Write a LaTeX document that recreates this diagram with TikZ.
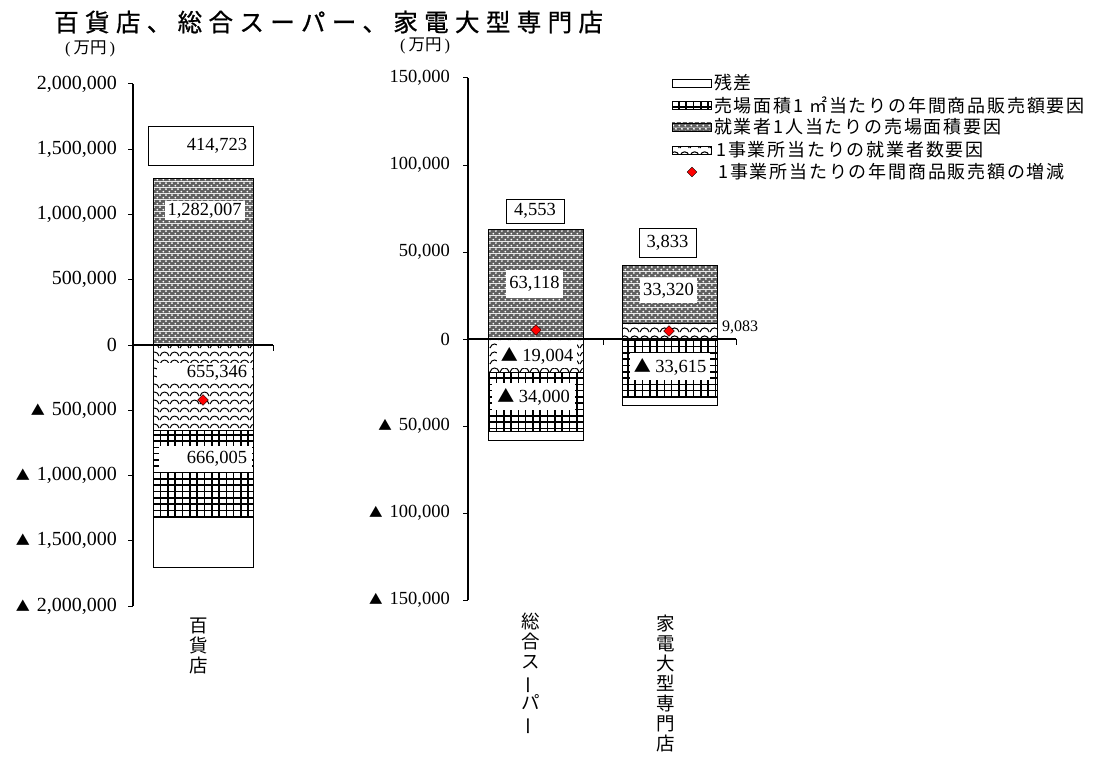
\documentclass[tikz,border=0pt]{standalone}
\usepackage{fontspec}
\usepackage{graphicx}
\setmainfont{Liberation Serif}
\newfontfamily\jp{Noto Sans CJK JP}
\usetikzlibrary{patterns,patterns.meta,shapes.geometric}

% fill of the floor-area-per-worker factor
\tikzdeclarepattern{
  name=dotmesh, type=colored,
  bounding box={(0pt,0pt) and (6pt,6pt)},
  tile size={(6pt,6pt)},
  code={\fill[black!62] (0pt,0pt) rectangle (6pt,6pt);
        \fill[white] (1.5pt,1.5pt) circle (1.15pt) (4.5pt,4.5pt) circle (1.15pt);}
}
% fill of the workers-per-establishment factor
\tikzdeclarepattern{
  name=scallop, type=uncolored,
  bounding box={(0pt,0pt) and (10pt,8pt)},
  tile size={(10pt,8pt)},
  code={\draw[line width=1.1pt] (0pt,1pt) .. controls (1.5pt,7pt) and (8.5pt,7pt) .. (10pt,1pt);}
}

% small triangle in front of negative numbers
\newcommand{\negtri}[1]{{\jp\fontsize{#1}{#1}\selectfont ▲}}

\begin{document}
\begin{tikzpicture}[x=1pt,y=-1pt,
  tick/.style={anchor=east,inner sep=0pt,font=\fontsize{20}{20}\selectfont},
  rtick/.style={anchor=east,inner sep=0pt,font=\fontsize{18.5}{19}\selectfont},
  vallab/.style={fill=white,inner xsep=3pt,inner ysep=1.5pt,font=\fontsize{18.5}{19}\selectfont},
  boxlab/.style={draw,fill=white,line width=0.9pt,font=\fontsize{18.5}{19}\selectfont},
  netpt/.style={diamond,draw,fill=red,inner sep=0pt,minimum size=11pt,line width=0.4pt},
  legtext/.style={anchor=west,inner sep=0pt,font=\jp\fontsize{18}{18}\selectfont\addfontfeature{LetterSpace=10}},
  cat/.style={anchor=north,inner sep=0pt,align=center,font=\jp\fontsize{18.5}{20}\selectfont},
  unit/.style={inner sep=0pt,font=\fontsize{16.5}{16.5}\selectfont},
  meshfill/.style={path picture={\draw[line width=1.6pt,xstep=7.3pt,ystep=6.3pt]
      (path picture bounding box.south west) grid (path picture bounding box.north east);}},
  bar/.style={draw,line width=1pt}]

\useasboundingbox (0,0) rectangle (1094,757);

% title
\node[anchor=west,inner sep=0pt,font=\jp\fontsize{24.5}{25}\selectfont\addfontfeature{LetterSpace=26,FakeBold=0.8}] (title) at (54,22) {百貨店、総合スーパー、家電大型専門店};

% units
\node[unit] (unit dept) at (90,49) {(\hspace{3pt}{\jp 万円}\hspace{3pt})};
\node[unit] (unit rest) at (425,46) {(\hspace{3pt}{\jp 万円}\hspace{3pt})};

% department store bar
\draw[bar,pattern=dotmesh] (153,178) rectangle (253,345);
\draw[bar,pattern=scallop] (153,345) rectangle (253,430.5);
\draw[bar,meshfill] (153,430.5) rectangle (253,517.5);
\draw[bar,fill=white] (153,517.5) rectangle (253,567);

% general merchandise store bar
\draw[bar,pattern=dotmesh] (488,229) rectangle (583,339);
\draw[bar,pattern=scallop] (488,339) rectangle (583,372);
\draw[bar,meshfill] (488,372) rectangle (583,431.5);
\draw[bar,fill=white] (488,431.5) rectangle (583,440);

% electronics store bar
\draw[bar,pattern=dotmesh] (622,265) rectangle (717,323);
\draw[bar,pattern=scallop] (622,323) rectangle (717,339);
\draw[bar,meshfill] (622,339) rectangle (717,397.6);
\draw[bar,fill=white] (622,397.6) rectangle (717,405);

% left axis
\draw[line width=1.5pt] (133,84) -- (133,606);
\draw[line width=1.5pt] (133,345) -- (273,345);
\draw[line width=1pt] (273,345) -- (273,351);
\foreach \y in {84,149.25,214.5,279.75,345,410.25,475.5,540.75,606}
  \draw[line width=1pt] (128,\y) -- (133,\y);
\node[tick] (l2000) at (117,84) {2,000,000};
\node[tick] (l1500) at (117,149.25) {1,500,000};
\node[tick] (l1000) at (117,214.5) {1,000,000};
\node[tick] (l500) at (117,279.75) {500,000};
\node[tick] (l0) at (117,345) {0};
\node[tick] (lm500) at (117,410.25) {\negtri{14}\hspace{7pt}500,000};
\node[tick] (lm1000) at (117,475.5) {\negtri{14}\hspace{7pt}1,000,000};
\node[tick] (lm1500) at (117,540.75) {\negtri{14}\hspace{7pt}1,500,000};
\node[tick] (lm2000) at (117,606) {\negtri{14}\hspace{7pt}2,000,000};

% right axis
\draw[line width=1.5pt] (468,78) -- (468,600);
\draw[line width=1.5pt] (468,339) -- (736,339);
\draw[line width=1pt] (603,339) -- (603,345);
\draw[line width=1pt] (736,339) -- (736,345);
\foreach \y in {78,165,252,339,426,513,600}
  \draw[line width=1pt] (463,\y) -- (468,\y);
\node[rtick] (r150) at (450,78) {150,000};
\node[rtick] (r100) at (450,165) {100,000};
\node[rtick] (r50) at (450,252) {50,000};
\node[rtick] (r0) at (450,339) {0};
\node[rtick] (rm50) at (450,426) {\negtri{13.5}\hspace{7pt}50,000};
\node[rtick] (rm100) at (450,513) {\negtri{13.5}\hspace{7pt}100,000};
\node[rtick] (rm150) at (450,600) {\negtri{13.5}\hspace{7pt}150,000};

% department store values
\node[boxlab,minimum width=105pt,minimum height=39pt,inner xsep=6pt,text width=93pt,align=right] (res dept) at (200.5,145.5) {414,723};
\node[vallab] (emp dept) at (204.5,210.5) {1,282,007};
\node[vallab,inner xsep=5pt,text width=85pt,align=right] (est dept) at (204.5,372.5) {655,346};
\node[vallab,inner xsep=5pt,text width=83pt,align=right,minimum height=26pt] (area dept) at (205.5,459) {666,005};

% general merchandise store values
\node[boxlab,minimum width=58pt,minimum height=24pt,inner sep=2pt] (res gms) at (535,211) {4,553};
\node[vallab,minimum height=28pt] (emp gms) at (534.5,284) {63,118};
\node[vallab,minimum width=80pt,minimum height=25pt] (est gms) at (537,355.5) {\negtri{17} 19,004};
\node[vallab,minimum width=83pt,minimum height=27pt] (area gms) at (533.5,396.5) {\negtri{17} 34,000};

% electronics store values
\node[boxlab,minimum width=57pt,minimum height=29pt,inner sep=2pt] (res elec) at (667.5,242.5) {3,833};
\node[vallab,minimum height=25pt] (emp elec) at (668.5,290.5) {33,320};
\node[anchor=west,inner sep=0pt,font=\fontsize{16}{16}\selectfont] (est elec) at (722,327) {9,083};
\node[vallab,minimum width=80pt,minimum height=27pt] (area elec) at (670,366.5) {\negtri{17} 33,615};

% net change points
\node[netpt] (net dept) at (203,400) {};
\node[netpt] (net gms) at (536,330) {};
\node[netpt] (net elec) at (669,331) {};

% category names
\node[cat] (cat dept) at (199,618) {百\\貨\\店};
\node[cat] (cat gms) at (531,613) {総\\合\\ス\\\rotatebox[origin=c]{90}{ー}\\パ\\\rotatebox[origin=c]{90}{ー}};
\node[cat] (cat elec) at (666,615) {家\\電\\大\\型\\専\\門\\店};

% legend
\draw[line width=0.8pt,fill=white] (672,79) rectangle (711,87);
\draw[line width=0.8pt,meshfill] (672,101) rectangle (711,109);
\draw[line width=0.8pt,pattern=dotmesh] (672,123) rectangle (711,131);
\draw[line width=0.8pt,pattern=scallop] (672,146) rectangle (711,154);
\node[netpt,minimum size=10pt] (leg net) at (692,172) {};
\node[legtext] (leg res) at (714,83) {残差};
\node[legtext] (leg area) at (714,105) {売場面積1 ㎡当たりの年間商品販売額要因};
\node[legtext] (leg emp) at (714,127) {就業者1人当たりの売場面積要因};
\node[legtext] (leg est) at (716,150) {1事業所当たりの就業者数要因};
\node[legtext] (leg netx) at (718,172) {1事業所当たりの年間商品販売額の増減};

\end{tikzpicture}
\end{document}
